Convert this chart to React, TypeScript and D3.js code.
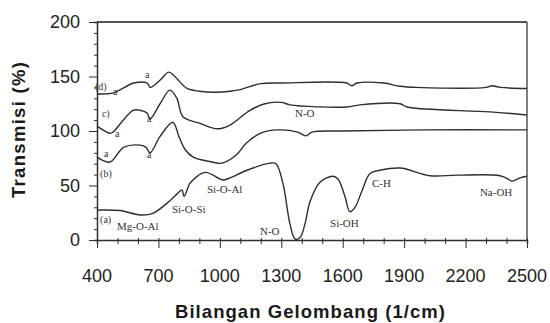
import React from 'react';
import { useRef, useEffect } from 'react';
import * as d3 from 'd3';

// spectra: [wavenumber, transmittance]
const spectrumA: [number, number][] = [
  [400, 27.5], [512, 27], [610, 23], [673, 24.5], [756, 36], [795, 43], [815, 46],
  [825, 40], [844, 48], [854, 52], [927, 62], [1000, 56], [1015, 55], [1050, 57],
  [1132, 64], [1245, 70.5], [1274, 70], [1308, 52], [1342, 15], [1367, 1], [1391, 2],
  [1416, 15], [1440, 35], [1489, 53], [1552, 58.5], [1577, 56], [1611, 40], [1635, 26],
  [1660, 30], [1694, 45], [1733, 61], [1782, 64], [1880, 66], [2026, 59], [2158, 59.5],
  [2368, 59], [2407, 56], [2427, 54], [2466, 57], [2500, 58.5],
];
const spectrumB: [number, number][] = [
  [400, 76], [463, 71.5], [530, 85], [610, 87], [640, 85], [659, 80], [708, 95],
  [770, 108], [800, 95], [830, 83], [870, 76], [950, 72], [1010, 70.5], [1080, 78],
  [1130, 89], [1200, 98], [1280, 101], [1380, 99], [1420, 95.5], [1450, 99],
  [1600, 100], [2000, 101], [2500, 101],
];
const spectrumC: [number, number][] = [
  [400, 104.5], [463, 98], [478, 99], [576, 119], [610, 119], [644, 116.5], [659, 111],
  [708, 125], [756, 137.5], [790, 130], [820, 113], [903, 107], [986, 102], [1050, 105.5],
  [1147, 119], [1220, 125], [1279, 126.5], [1308, 126], [1342, 124], [1620, 122],
  [1684, 124], [1880, 125], [1914, 122], [2320, 117.5], [2500, 114.7],
];
const spectrumD: [number, number][] = [
  [400, 134], [480, 135], [580, 144], [645, 144], [660, 140], [710, 147], [750, 154],
  [780, 150], [840, 139], [900, 136.5], [970, 135.5], [1050, 136.5], [1100, 138],
  [1150, 141], [1200, 143.5], [1300, 144], [1620, 144], [1645, 141.5], [1670, 144],
  [1800, 144], [1880, 141], [1960, 140], [2300, 140], [2330, 141.5], [2370, 140],
  [2500, 139],
];
const spectra = [spectrumA, spectrumB, spectrumC, spectrumD];

const xTicks = [400, 700, 1000, 1300, 1600, 1900, 2200, 2500];
const yTicks = [0, 50, 100, 150, 200];

// band annotations: [text, wavenumber, transmittance]
const bandLabels: [string, number, number][] = [
  ['Mg-O-Al', 498, 9.2], ['Si-O-Si', 766, 24.8], ['Si-O-Al', 937, 43],
  ['N-O', 1196, 4.6], ['Si-OH', 1538, 12], ['C-H', 1743, 48.6], ['Na-OH', 2270, 40],
  ['N-O', 1367, 113],
];
const curveLabels: [string, number, number][] = [
  ['(a)', 415, 15.6], ['(b)', 415, 57.8], ['c)', 424, 113], ['(d)', 390, 137.6],
  ['a', 434, 76], ['a', 644, 75], ['a', 488, 94.5], ['a', 644, 108],
  ['a', 478, 133], ['a', 634, 148.6],
];

export default function App() {
  const svgRef = useRef<SVGSVGElement>(null);

  useEffect(() => {
    const w = 550;
    const h = 323;
    const left = 97, right = 527, top = 22, bottom = 240;
    const svg = d3.select(svgRef.current);
    svg.selectAll('*').remove();
    svg.attr('width', w).attr('height', h);

    const x = d3.scaleLinear().domain([400, 2500]).range([left, right]);
    const y = d3.scaleLinear().domain([0, 200]).range([bottom, top]);
    const ink = '#2e2e2e';

    // frame
    svg.append('line').attr('x1', left).attr('x2', right).attr('y1', top).attr('y2', top)
      .attr('stroke', '#555').attr('stroke-width', 2);
    svg.append('line').attr('x1', right).attr('x2', right).attr('y1', top).attr('y2', bottom)
      .attr('stroke', '#555').attr('stroke-width', 1.5);

    //y axis
    const yAxis = svg.append('g').attr('transform', `translate(${left},0)`);
    yAxis.call(d3.axisLeft(y).tickValues(d3.range(0, 201, 10)).tickSize(3).tickFormat(() => ''));
    yAxis.call(g => g.selectAll('.tick')
      .filter((d: any) => d % 50 === 0)
      .select('line').attr('x2', -8));
    yAxis.select('.domain').attr('stroke', ink).attr('stroke-width', 1.5);
    yAxis.selectAll('.tick line').attr('stroke', ink);
    yAxis.selectAll('.lbl').data(yTicks).join('text')
      .attr('x', -17).attr('y', d => y(d)).attr('dy', '0.36em')
      .attr('text-anchor', 'end').attr('fill', '#222')
      .style('font-family', 'Liberation Sans, Arial, sans-serif').style('font-size', '18px')
      .text(d => d);

    //x axis
    const xAxis = svg.append('g').attr('transform', `translate(0,${bottom})`);
    xAxis.call(d3.axisBottom(x).tickValues(d3.range(400, 2501, 100)).tickSize(4).tickFormat(() => ''));
    xAxis.call(g => g.selectAll('.tick')
      .filter((d: any) => (d - 400) % 300 === 0)
      .select('line').attr('y2', 8));
    xAxis.selectAll('.tick line').attr('y1', -2).attr('stroke', ink);
    xAxis.select('.domain').attr('stroke', ink).attr('stroke-width', 1.5);
    xAxis.selectAll('.lbl').data(xTicks).join('text')
      .attr('x', d => x(d)).attr('y', 42)
      .attr('text-anchor', 'middle').attr('fill', '#222')
      .style('font-family', 'Liberation Sans, Arial, sans-serif').style('font-size', '18px')
      .text(d => d);

    // titles
    svg.append('text').attr('x', 310).attr('y', 318).attr('text-anchor', 'middle')
      .attr('textLength', 270).attr('lengthAdjust', 'spacing')
      .style('font-family', 'Liberation Sans, Arial, sans-serif').style('font-size', '18.5px')
      .style('font-weight', 'bold').attr('fill', '#1a1a1a')
      .text('Bilangan Gelombang (1/cm)');
    svg.append('text').attr('transform', 'translate(25,130) rotate(-90)').attr('text-anchor', 'middle')
      .attr('textLength', 136).attr('lengthAdjust', 'spacing')
      .style('font-family', 'Liberation Sans, Arial, sans-serif').style('font-size', '18.5px')
      .style('font-weight', 'bold').attr('fill', '#1a1a1a')
      .text('Transmisi (%)');

    //spectra
    const line = d3.line<[number, number]>()
      .x(d => x(d[0]))
      .y(d => y(d[1]))
      .curve(d3.curveCatmullRom.alpha(0.5));
    svg.selectAll('.spec').data(spectra).join('path')
      .attr('d', line)
      .attr('fill', 'none')
      .attr('stroke', ink)
      .attr('stroke-width', 1.4);

    // annotations
    svg.selectAll('.band').data(bandLabels).join('text')
      .attr('x', d => x(d[1])).attr('y', d => y(d[2]))
      .attr('fill', '#333')
      .style('font-family', 'Liberation Serif, Times New Roman, serif').style('font-size', '11px')
      .text(d => d[0]);
    svg.selectAll('.curve').data(curveLabels).join('text')
      .attr('x', d => x(d[1])).attr('y', d => y(d[2]))
      .attr('fill', '#333')
      .style('font-family', 'Liberation Serif, Times New Roman, serif').style('font-size', '10px')
      .text(d => d[0]);
  }, []);

  return (
    <div className="ftir-chart">
      <svg ref={svgRef} style={{ position: 'absolute', left: 0, top: 0 }}></svg>
    </div>
  );
}
